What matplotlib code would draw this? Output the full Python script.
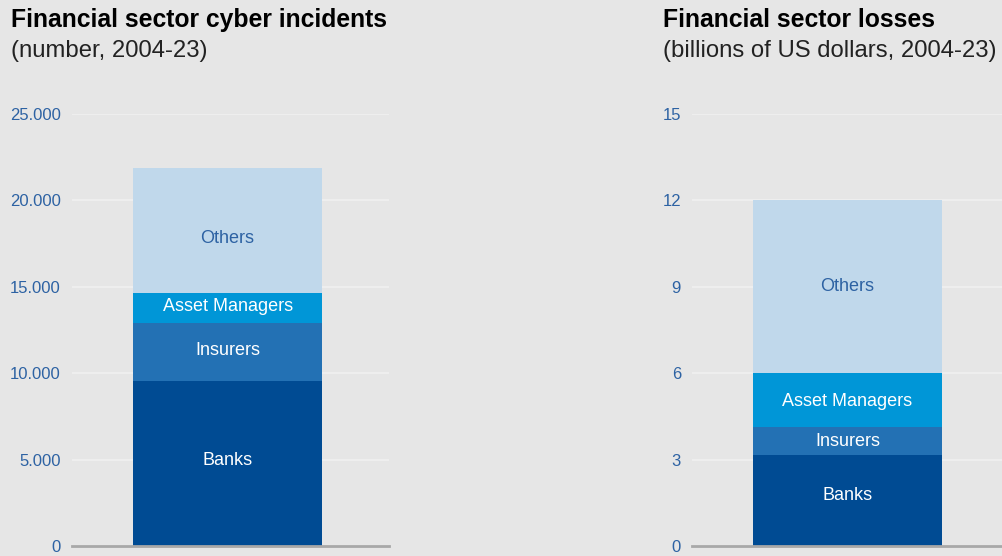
import matplotlib.pyplot as plt
from matplotlib.ticker import FuncFormatter

plt.rcParams["font.family"] = ["Liberation Sans", "DejaVu Sans"]

# stacked totals for 2004-23
sectors = ["Banks", "Insurers", "Asset Managers", "Others"]
incidents = [9550, 3350, 1750, 7220]
losses = [3.15, 0.97, 1.88, 6.0]

inc_ticks = [0, 5000, 10000, 15000, 20000, 25000]
loss_ticks = [0, 3, 6, 9, 12, 15]

colors = ["#004b93", "#2371b4", "#0096d7", "#c0d8eb"]
label_colors = ["white", "white", "white", "#2d62a3"]
bg = "#e6e6e6"
tick_blue = "#2d62a3"

fig = plt.figure(figsize=(10.03, 5.56), dpi=100, facecolor=bg)


def stacked(ax, values, ticks, fmt, xlim, nudge):
    ax.set_facecolor(bg)
    bottom = 0
    for v, c, lc, name, dy in zip(values, colors, label_colors, sectors, nudge):
        ax.bar(0, v, bottom=bottom, width=1.0, color=c, zorder=3)
        ax.annotate(name, (0, bottom + v / 2), xytext=(0, dy),
                    textcoords="offset points", ha="center", va="center",
                    color=lc, fontsize=13, zorder=4)
        bottom += v
    ax.set_ylim(0, ticks[-1])
    ax.set_xlim(*xlim)
    ax.set_yticks(ticks)
    ax.yaxis.set_major_formatter(FuncFormatter(fmt))
    ax.tick_params(axis="y", length=0, pad=8, labelsize=12, labelcolor=tick_blue)
    ax.set_xticks([])
    ax.grid(axis="y", color="#eeeeee", linewidth=1.5, zorder=1)
    for s in ["top", "right", "left"]:
        ax.spines[s].set_visible(False)
    ax.spines["bottom"].set_color("#a8a8a8")
    ax.spines["bottom"].set_linewidth(2)
    ax.spines["bottom"].set_zorder(5)


ax1 = fig.add_axes([72 / 1003, 10 / 556, 317 / 1003, 432 / 556])
stacked(ax1, incidents, inc_ticks,
        lambda v, p: f"{int(v):,}".replace(",", "."), (-0.823, 0.854),
        [2, 1, 1, -6])

ax2 = fig.add_axes([692 / 1003, 10 / 556, 311 / 1003, 432 / 556])
stacked(ax2, losses, loss_ticks, lambda v, p: f"{int(v)}", (-0.823, 0.823),
        [4, 0, -1, 0])

fig.text(11 / 1003, 1 - 27 / 556, "Financial sector cyber incidents",
         fontsize=17.8, fontweight="bold", va="baseline")
fig.text(11 / 1003, 1 - 57 / 556, "(number, 2004-23)",
         fontsize=17.2, color="#222222", va="baseline")
fig.text(663 / 1003, 1 - 27 / 556, "Financial sector losses",
         fontsize=17.8, fontweight="bold", va="baseline")
fig.text(663 / 1003, 1 - 57 / 556, "(billions of US dollars, 2004-23)",
         fontsize=17.2, color="#222222", va="baseline")

fig.savefig("out.png", dpi=100, facecolor=bg)
